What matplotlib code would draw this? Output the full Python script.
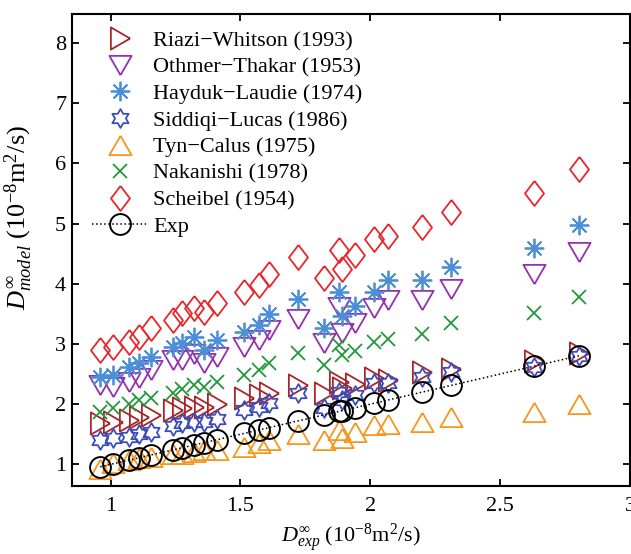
import matplotlib
matplotlib.use("Agg")
import matplotlib.pyplot as plt
from matplotlib.path import Path

plt.rcParams['font.family'] = ['Liberation Serif', 'DejaVu Serif']
plt.rcParams['mathtext.fontset'] = 'custom'
plt.rcParams['mathtext.rm'] = 'Liberation Serif'
plt.rcParams['mathtext.it'] = 'Liberation Serif:italic'

# experimental diffusivities (x) -- Exp points sit on y = x
d_exp = [0.96, 1.01, 1.07, 1.11, 1.155, 1.24, 1.275, 1.32, 1.36, 1.41, 1.515, 1.57,
         1.61, 1.72, 1.82, 1.88, 1.89, 1.94, 2.015, 2.07, 2.20, 2.31, 2.63, 2.805]

riazi = [1.68, 1.71, 1.74, 1.79, 1.82, 1.90, 1.93, 1.96, 1.96, 2.01, 2.10, 2.15,
         2.19, 2.32, 2.18, 2.37, 2.26, 2.34, 2.43, 2.40, 2.54, 2.59, 2.72, 2.85]
othmer = [2.32, 2.29, 2.37, 2.43, 2.57, 2.73, 2.73, 2.84, 2.68, 2.79, 2.95, 3.06,
          3.23, 3.41, 3.02, 3.62, 3.18, 3.34, 3.59, 3.73, 3.73, 3.92, 4.17, 4.53]
hayduk = [2.45, 2.48, 2.62, 2.69, 2.79, 2.95, 3.01, 3.12, 2.90, 3.06, 3.20, 3.31,
          3.50, 3.74, 3.27, 3.87, 3.46, 3.63, 3.87, 4.06, 4.07, 4.28, 4.59, 4.97]
siddiqi = [1.40, 1.43, 1.46, 1.51, 1.54, 1.64, 1.68, 1.71, 1.71, 1.76, 1.90, 1.96,
           2.02, 2.18, 1.93, 2.21, 2.07, 2.15, 2.35, 2.35, 2.45, 2.54, 2.62, 2.80]
tyn = [0.93, 1.02, 1.07, 1.10, 1.13, 1.18, 1.17, 1.21, 1.24, 1.24, 1.29, 1.35,
       1.40, 1.51, 1.40, 1.57, 1.43, 1.54, 1.65, 1.67, 1.71, 1.79, 1.87, 2.01]
nakanishi = [1.87, 1.93, 2.01, 2.07, 2.10, 2.18, 2.25, 2.32, 2.29, 2.37, 2.48, 2.57,
             2.69, 2.85, 2.65, 2.98, 2.81, 2.89, 3.04, 3.09, 3.17, 3.34, 3.52, 3.78]
scheibel = [2.90, 2.95, 3.04, 3.12, 3.26, 3.40, 3.52, 3.59, 3.53, 3.68, 3.87, 3.98,
            4.17, 4.45, 4.09, 4.56, 4.25, 4.47, 4.75, 4.79, 4.95, 5.19, 5.50, 5.90]

# marker shapes
tri_up = Path([(0, 0.433), (-0.5, -0.433), (0.5, -0.433), (0, 0.433)])
tri_down = Path([(0, -0.433), (-0.5, 0.433), (0.5, 0.433), (0, -0.433)])
tri_right = Path([(0.433, 0), (-0.433, 0.5), (-0.433, -0.5), (0.433, 0)])
diamond = Path([(0, 1), (0.76, 0), (0, -1), (-0.76, 0), (0, 1)])
hexagram = Path.unit_regular_star(6, 0.577)

series = [
    (riazi, tri_right, '#a8262a', 16, 'Riazi\u2212Whitson (1993)'),
    (othmer, tri_down, '#9530b0', 16, 'Othmer\u2212Thakar (1953)'),
    (hayduk, (8, 2, 0), '#4b8fd9', 14, 'Hayduk\u2212Laudie (1974)'),
    (siddiqi, hexagram, '#3b4db8', 13.5, 'Siddiqi\u2212Lucas (1986)'),
    (tyn, tri_up, '#f5961f', 16, 'Tyn\u2212Calus (1975)'),
    (nakanishi, 'x', '#22993c', 10, 'Nakanishi (1978)'),
    (scheibel, diamond, '#e8262b', 18, 'Scheibel (1954)'),
]

fig = plt.figure(figsize=(6.31, 5.54), dpi=100)
ax = fig.add_axes([0.1136, 0.1227, 0.8848, 0.852])

for values, marker, color, size, label in series:
    ax.plot(d_exp, values, linestyle='none', marker=marker, markersize=size,
            markerfacecolor='none', markeredgecolor=color, markeredgewidth=1.3,
            label=label)

ax.plot(d_exp, d_exp, linestyle=':', color='black', linewidth=1.1,
        marker='o', markersize=15, markerfacecolor='none',
        markeredgecolor='black', markeredgewidth=1.4, label='Exp')

ax.set_xlim(0.85, 3.0)
ax.set_ylim(0.64, 8.48)
ax.set_xticks([1, 1.5, 2, 2.5, 3])
ax.set_xticklabels(['1', '1.5', '2', '2.5', '3'])
ax.set_yticks(range(1, 9))

ax.tick_params(direction='in', top=True, right=True, length=5, width=1.3,
               labelsize=16)
ax.tick_params(axis='x', pad=8)
ax.tick_params(axis='y', pad=4)
for spine in ax.spines.values():
    spine.set_linewidth(1.5)

ax.set_xlabel(r'$D^{\infty}_{exp}$ (10$^{-8}$m$^2$/s)', fontsize=16)
ax.set_ylabel(r'$D^{\infty}_{model}$ (10$^{-8}$m$^2$/s)', fontsize=19)
ax.xaxis.set_label_coords(0.5, -0.074)
ax.yaxis.set_label_coords(-0.066, 0.57)

ax.legend(loc='upper left', bbox_to_anchor=(0.036, 0.965), frameon=False,
          fontsize=16, numpoints=1, handlelength=2.5, handletextpad=0.25,
          labelspacing=0.27, borderpad=0, borderaxespad=0)

fig.savefig('out.png', dpi=100)
